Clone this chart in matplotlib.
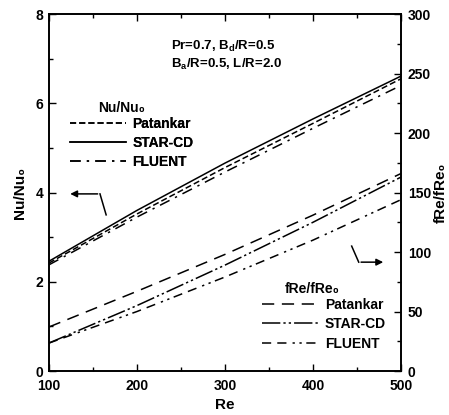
import matplotlib
matplotlib.use("Agg")
import matplotlib.pyplot as plt
from matplotlib.lines import Line2D
from matplotlib.ticker import MultipleLocator

plt.rcParams["font.family"] = ["Liberation Sans", "DejaVu Sans"]
plt.rcParams["font.weight"] = "bold"
plt.rcParams["mathtext.fontset"] = "custom"
plt.rcParams["mathtext.rm"] = "Liberation Sans:bold"
plt.rcParams["mathtext.it"] = "Liberation Sans:bold"
plt.rcParams["mathtext.bf"] = "Liberation Sans:bold"

# ── data ──────────────────────────────────────────────────────────────────────
re = [100, 200, 300, 400, 500]

nu_patankar = [2.42, 3.52, 4.56, 5.55, 6.55]
nu_starcd   = [2.46, 3.60, 4.66, 5.65, 6.61]
nu_fluent   = [2.38, 3.45, 4.46, 5.44, 6.40]

fre_patankar = [37.0, 67.0, 98.0, 131.0, 166.0]
fre_starcd   = [23.5, 55.0, 89.0, 125.0, 163.0]
fre_fluent   = [23.5, 50.0, 79.0, 110.0, 144.0]

# ── styles ────────────────────────────────────────────────────────────────────
K = "black"
LW = 1.1
NU_STYLES = {
    "Patankar": (0, (4, 2)),
    "STAR-CD": "-",
    "FLUENT": (0, (7, 4, 1.5, 4)),
}
FRE_STYLES = {
    "Patankar": (0, (8, 5)),
    "STAR-CD": (0, (12, 2, 1.5, 2, 1.5, 2)),
    "FLUENT": (0, (6, 4, 6, 4, 1.5, 3, 1.5, 3)),
}
FS = 10

fig = plt.figure(figsize=(4.49, 4.15), dpi=100)
ax = fig.add_axes([0.109, 0.106, 0.784, 0.860])
ax2 = ax.twinx()

for name, ys in [("Patankar", nu_patankar), ("STAR-CD", nu_starcd),
                 ("FLUENT", nu_fluent)]:
    ax.plot(re, ys, color=K, lw=LW, ls=NU_STYLES[name])

for name, ys in [("Patankar", fre_patankar), ("STAR-CD", fre_starcd),
                 ("FLUENT", fre_fluent)]:
    ax2.plot(re, ys, color=K, lw=LW, ls=FRE_STYLES[name])

ax.set_xlim(100, 500)
ax.set_ylim(0, 8)
ax2.set_ylim(0, 300)

ax.xaxis.set_major_locator(MultipleLocator(100))
ax.xaxis.set_minor_locator(MultipleLocator(50))
ax.yaxis.set_major_locator(MultipleLocator(2))
ax.yaxis.set_minor_locator(MultipleLocator(1))
ax2.yaxis.set_major_locator(MultipleLocator(50))
ax2.yaxis.set_minor_locator(MultipleLocator(25))

for a in (ax, ax2):
    a.tick_params(which="both", direction="in", labelsize=FS, width=1.0)
    a.tick_params(which="major", length=5)
    a.tick_params(which="minor", length=3)
    for s in a.spines.values():
        s.set_linewidth(1.2)
ax.tick_params(which="both", top=True)
ax.tick_params(axis="x", pad=6)
ax.tick_params(axis="y", pad=4)
ax2.tick_params(axis="y", pad=5)
for lab in ax.get_xticklabels() + ax.get_yticklabels() + ax2.get_yticklabels():
    lab.set_fontweight("bold")

ax.set_xlabel("Re", fontsize=11, fontweight="bold", labelpad=3)
ax.set_ylabel("Nu/Nu\u2080", fontsize=11, fontweight="bold", labelpad=6)
ax2.set_ylabel("fRe/fRe\u2080", fontsize=11, fontweight="bold", labelpad=2)

# ── annotation text ───────────────────────────────────────────────────────────
ax.text(0.347, 0.909, r"Pr=0.7, B$_\mathrm{d}$/R=0.5", transform=ax.transAxes,
        fontsize=9.5, fontweight="bold", ha="left", va="center")
ax.text(0.347, 0.860, r"B$_\mathrm{a}$/R=0.5, L/R=2.0", transform=ax.transAxes,
        fontsize=9.5, fontweight="bold", ha="left", va="center")

# ── legends ───────────────────────────────────────────────────────────────────
leg_kw = dict(loc="upper left", frameon=False, handlelength=4.0,
              handletextpad=0.5, labelspacing=0.38, borderaxespad=0,
              prop={"weight": "bold", "size": FS})

nu_handles = [Line2D([], [], color=K, lw=LW, ls=NU_STYLES[n]) for n in NU_STYLES]
leg1 = ax.legend(nu_handles, list(NU_STYLES), bbox_to_anchor=(0.044, 0.728),
                 **leg_kw)
ax.add_artist(leg1)
ax.text(0.207, 0.737, "Nu/Nu\u2080", transform=ax.transAxes, fontsize=FS,
        fontweight="bold", ha="center", va="center")

fre_handles = [Line2D([], [], color=K, lw=LW, ls=FRE_STYLES[n]) for n in FRE_STYLES]
leg2 = ax2.legend(fre_handles, list(FRE_STYLES), bbox_to_anchor=(0.59, 0.220),
                  **leg_kw)
ax.text(0.747, 0.229, "fRe/fRe\u2080", transform=ax.transAxes, fontsize=FS,
        fontweight="bold", ha="center", va="center")

# ── arrows pointing to the relevant axes ──────────────────────────────────────
ax.plot([165, 158], [3.5, 3.97], color=K, lw=1.1)
ax.annotate("", xy=(121, 3.97), xytext=(158.5, 3.97),
            arrowprops=dict(arrowstyle="-|>", color=K, lw=1.1,
                            mutation_scale=10))
ax.plot([444, 452], [2.8, 2.44], color=K, lw=1.1)
ax.annotate("", xy=(483, 2.44), xytext=(451.5, 2.44),
            arrowprops=dict(arrowstyle="-|>", color=K, lw=1.1,
                            mutation_scale=10))

fig.savefig("out.png", dpi=100)
